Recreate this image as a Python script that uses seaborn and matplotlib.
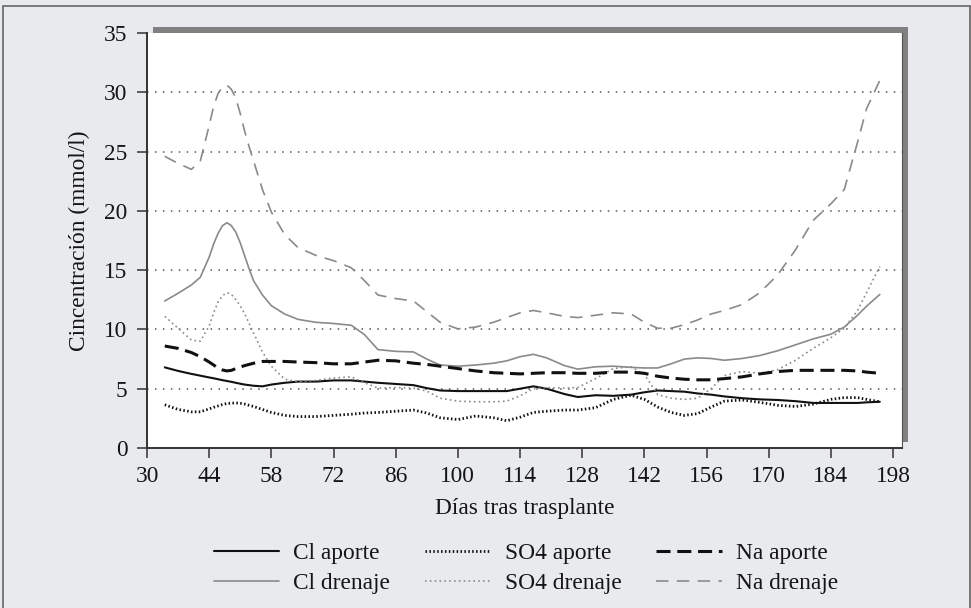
import matplotlib
matplotlib.use("Agg")
import matplotlib.pyplot as plt
from matplotlib.patches import Rectangle
import seaborn as sns
import pandas as pd

days = [34, 37, 40, 42, 44, 45, 46, 47, 48, 49, 50, 51, 52, 53, 54, 56, 58, 61, 64, 68, 72,
        76, 79, 82, 86, 90, 93, 96, 100, 104, 108, 111, 114, 117, 120, 124, 127, 131, 135,
        139, 142, 145, 148, 151, 154, 157, 160, 164, 168, 172, 176, 180, 184, 187, 190, 192,
        195]

cl_aporte = [6.8, 6.5, 6.25, 6.1, 5.95, 5.88, 5.8, 5.72, 5.65, 5.58, 5.5, 5.42, 5.35, 5.3,
             5.25, 5.2, 5.35, 5.5, 5.6, 5.6, 5.7, 5.7, 5.6, 5.5, 5.4, 5.3, 5.05, 4.85, 4.8,
             4.8, 4.8, 4.8, 5.0, 5.2, 5.0, 4.55, 4.3, 4.45, 4.4, 4.5, 4.7, 4.85, 4.8, 4.75,
             4.6, 4.5, 4.35, 4.2, 4.1, 4.05, 3.95, 3.8, 3.8, 3.8, 3.8, 3.85, 3.9]

cl_drenaje = [12.4, 13.05, 13.75, 14.4, 16.1, 17.2, 18.1, 18.75, 19.0, 18.75, 18.2, 17.3,
              16.2, 15.1, 14.1, 12.9, 12.0, 11.3, 10.85, 10.6, 10.5, 10.35, 9.55, 8.3, 8.15,
              8.1, 7.5, 7.0, 6.9, 7.0, 7.15, 7.35, 7.7, 7.9, 7.6, 6.95, 6.65, 6.85, 6.9, 6.8,
              6.75, 6.75, 7.1, 7.5, 7.6, 7.55, 7.4, 7.55, 7.8, 8.2, 8.7, 9.2, 9.6, 10.2, 11.2,
              11.95, 12.95]

so4_aporte = [3.65, 3.25, 3.05, 3.05, 3.3, 3.43, 3.55, 3.67, 3.75, 3.78, 3.8, 3.77, 3.7,
              3.6, 3.5, 3.25, 3.0, 2.75, 2.65, 2.65, 2.75, 2.85, 2.95, 3.0, 3.1, 3.2, 2.95,
              2.55, 2.4, 2.7, 2.55, 2.3, 2.6, 3.0, 3.1, 3.2, 3.2, 3.4, 4.1, 4.45, 4.1, 3.45,
              3.0, 2.75, 2.9, 3.45, 3.95, 4.05, 3.85, 3.6, 3.5, 3.7, 4.1, 4.25, 4.25, 4.1, 3.9]

so4_drenaje = [11.1, 10.1, 9.1, 9.0, 10.3, 11.4, 12.3, 12.85, 13.1, 12.95, 12.5, 12.0, 11.3,
               10.5, 9.7, 8.1, 6.9, 5.8, 5.6, 5.7, 5.9, 6.0, 5.5, 5.05, 5.1, 5.05, 4.8, 4.2,
               3.95, 3.9, 3.9, 3.95, 4.4, 5.0, 5.1, 5.05, 5.1, 5.85, 6.7, 6.85, 6.2, 4.5, 4.2,
               4.1, 4.2, 5.0, 6.1, 6.45, 6.3, 6.6, 7.4, 8.4, 9.3, 10.1, 11.6, 13.1, 15.3]

na_aporte = [8.6, 8.4, 8.05, 7.7, 7.25, 7.0, 6.75, 6.58, 6.5, 6.55, 6.7, 6.83, 6.95, 7.05,
             7.15, 7.3, 7.3, 7.3, 7.25, 7.2, 7.1, 7.1, 7.25, 7.4, 7.35, 7.15, 7.05, 6.9, 6.7,
             6.5, 6.35, 6.3, 6.25, 6.3, 6.35, 6.35, 6.3, 6.3, 6.4, 6.4, 6.3, 6.05, 5.9, 5.8,
             5.75, 5.75, 5.85, 6.0, 6.25, 6.45, 6.55, 6.55, 6.55, 6.55, 6.5, 6.4, 6.3]

na_drenaje = [24.6, 24.0, 23.5, 24.2, 27.2, 28.8, 29.9, 30.45, 30.6, 30.25, 29.5, 28.2, 26.7,
              25.4, 24.2, 21.8, 19.9, 18.0, 16.9, 16.25, 15.8, 15.2, 14.1, 12.9, 12.6, 12.4,
              11.5, 10.6, 10.05, 10.2, 10.6, 11.0, 11.4, 11.6, 11.4, 11.1, 11.0, 11.2, 11.4,
              11.3, 10.6, 10.1, 10.1, 10.4, 10.8, 11.3, 11.6, 12.1, 13.1, 14.6, 16.7, 19.2,
              20.6, 21.8, 25.8, 28.6, 31.0]

x_ticks = [30, 44, 58, 72, 86, 100, 114, 128, 142, 156, 170, 184, 198]
y_ticks = [0, 5, 10, 15, 20, 25, 30, 35]
x_label = "Días tras trasplante"
y_label = "Cincentración (mmol/l)"

sns.set_theme(style="ticks")
plt.rcParams["font.family"] = ["Liberation Serif", "DejaVu Serif"]
FS = 16.8
TXT = "#151515"
BG = "#e8eaee"

fig = plt.figure(figsize=(9.71, 6.08), dpi=100, facecolor=BG)
W, H = 971.0, 608.0

# outer frame
fig.patches.append(Rectangle((3 / W, -0.02), 967 / W, 1 - 6 / H + 0.02, transform=fig.transFigure,
                             fill=False, edgecolor="#5a5a5a", linewidth=1.1, zorder=-2))
# shadow behind plot area
fig.patches.append(Rectangle((153 / W, 1 - 442 / H), 755 / W, 415 / H, transform=fig.transFigure,
                             facecolor="#808080", edgecolor="none", zorder=-1))

ax = fig.add_axes([147 / W, 1 - 448 / H, 755 / W, 415 / H])
ax.set_facecolor("white")

series = [
    ("Cl aporte", cl_aporte, dict(color="#111111", linewidth=1.5, linestyle="-")),
    ("Cl drenaje", cl_drenaje, dict(color="#8a8a8a", linewidth=1.2, linestyle="-")),
    ("SO4 aporte", so4_aporte, dict(color="#111111", linewidth=2.0, linestyle=(0, (0.55, 0.85)))),
    ("SO4 drenaje", so4_drenaje, dict(color="#8a8a8a", linewidth=1.2, linestyle=(0, (1.0, 1.9)))),
    ("Na aporte", na_aporte, dict(color="#111111", linewidth=2.2, linestyle=(0, (4.6, 2.2)))),
    ("Na drenaje", na_drenaje, dict(color="#8a8a8a", linewidth=1.2, linestyle=(0, (7.5, 5.0)))),
]

handles = {}
for name, vals, st in series:
    df = pd.DataFrame({"day": days, "val": vals})
    sns.lineplot(data=df, x="day", y="val", ax=ax, errorbar=None, label=name, zorder=3,
                 solid_joinstyle="round", **st)
    handles[name] = ax.get_lines()[-1]
if ax.get_legend() is not None:
    ax.get_legend().remove()

# dotted horizontal grid
for yv in y_ticks[1:-1]:
    ax.axhline(yv, color="#555555", linewidth=1.1, linestyle=(0, (1.0, 4.2)), zorder=1)

ax.set_xlim(30, 200)
ax.set_ylim(0, 35)
ax.set_xticks(x_ticks)
ax.set_yticks(y_ticks)
ax.tick_params(axis="both", direction="out", length=7, width=1.1, color="#333333",
               labelsize=FS, labelcolor=TXT, pad=6)
ax.tick_params(axis="y", pad=7)
for s in ["left", "bottom"]:
    ax.spines[s].set_color("#333333")
    ax.spines[s].set_linewidth(1.4)
ax.spines["top"].set_visible(False)
ax.spines["right"].set_color("#555555")
ax.spines["right"].set_linewidth(0.8)

ax.set_xlabel(x_label, fontsize=FS, color=TXT, labelpad=8)
ax.set_ylabel(y_label, fontsize=FS, color=TXT, labelpad=10)

order = ["Cl aporte", "Cl drenaje", "SO4 aporte", "SO4 drenaje", "Na aporte", "Na drenaje"]
fig.legend([handles[n] for n in order], order, loc="center", bbox_to_anchor=(526 / W, 1 - 568.5 / H),
           ncol=3, frameon=False, fontsize=FS, handlelength=2.8, handletextpad=0.6,
           columnspacing=1.5, labelspacing=0.35, borderpad=0, labelcolor=TXT)

fig.savefig("out.png", dpi=100, facecolor=BG)
